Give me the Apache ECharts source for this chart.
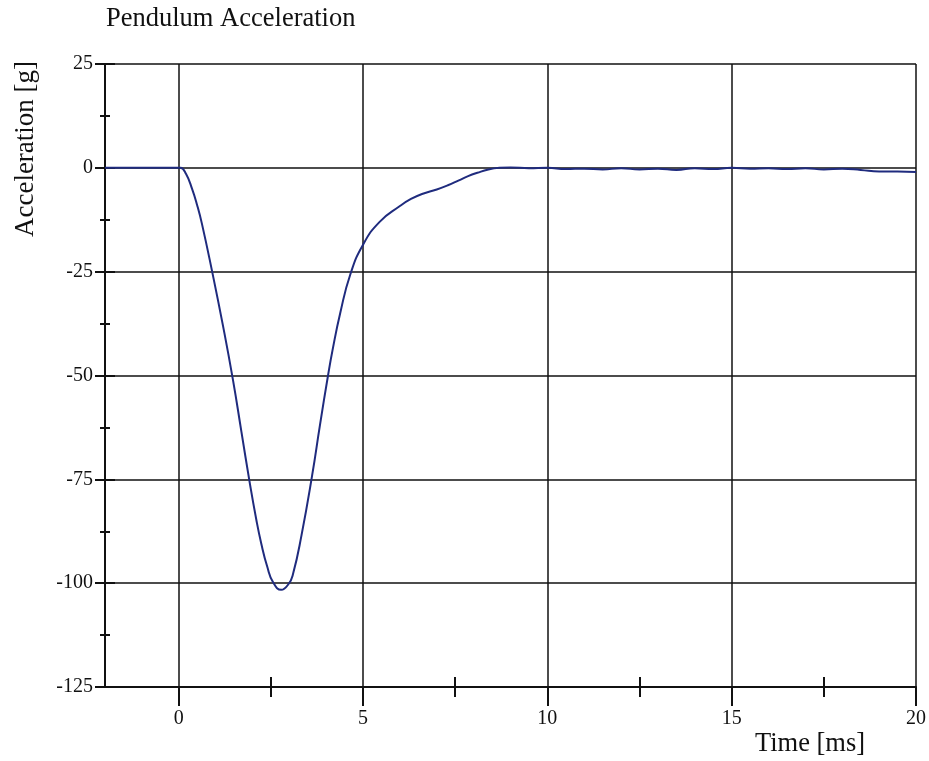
<!DOCTYPE html>
<html>
<head>
<meta charset="utf-8">
<script src="https://cdn.jsdelivr.net/npm/echarts@6/dist/echarts.min.js"></script>
<style>html,body{margin:0;padding:0;background:#fff}#c{width:929px;height:761px}</style>
</head>
<body>
<div id="c"></div>
<script>
const chartTitle = 'Pendulum Acceleration';
const xName = 'Time [ms]';
const yName = 'Acceleration [g]';
const xMajor = [0, 5, 10, 15, 20];
const xMinor = [2.5, 7.5, 12.5, 17.5];
const timeMs = [-2, -1, 0, 0.05, 0.2, 0.36, 0.5, 0.63, 0.9, 1.2, 1.47, 1.7, 1.92, 2.1, 2.24, 2.4, 2.56, 2.78, 2.98, 3.1, 3.33, 3.62, 3.83, 4.05, 4.17, 4.38, 4.66, 5.0, 5.45, 6.0, 6.3, 6.6, 7.0, 7.3, 7.6, 7.85, 8.1, 8.4, 8.7, 9.0, 9.5, 10, 10.5, 11, 11.5, 12, 12.5, 13, 13.5, 14, 14.5, 15, 15.5, 16, 16.5, 17, 17.5, 18, 18.5, 19, 19.5, 20];
const accelG = [0, 0, 0, 0, -1.5, -5, -9, -13.5, -24.7, -38, -51, -63.5, -75.5, -84.5, -90.5, -96, -99.8, -101.6, -100.2, -97.8, -88.5, -74, -62, -50, -44, -35, -25.5, -18.5, -13, -9.2, -7.5, -6.3, -5.2, -4.2, -3.0, -2.0, -1.2, -0.4, 0, 0.1, -0.1, 0, -0.3, -0.2, -0.4, -0.1, -0.4, -0.2, -0.5, -0.1, -0.3, 0, -0.2, -0.1, -0.3, -0.1, -0.4, -0.2, -0.5, -0.9, -0.9, -1];

const serif = "'Liberation Serif', 'DejaVu Serif', serif";
const ink = '#111';
const chart = echarts.init(document.getElementById('c'), null, {renderer: 'canvas'});
const baseX = {type: 'value', min: -2, max: 20, position: 'bottom', splitLine: {show: false}};
chart.setOption({
  animation: false,
  backgroundColor: '#fff',
  title: {text: chartTitle, left: 101, top: 1, textStyle: {fontFamily: serif, fontSize: 26.5, fontWeight: 'normal', color: ink}},
  grid: {left: 105, right: 13, top: 64, bottom: 74, containLabel: false},
  xAxis: [
    Object.assign({}, baseX, {
      axisLine: {show: true, onZero: false, lineStyle: {color: ink, width: 2}},
      axisTick: {show: true, customValues: xMajor, length: 19, lineStyle: {color: ink, width: 2}},
      axisLabel: {show: true, customValues: xMajor, margin: 22, fontFamily: serif, fontSize: 20, color: ink}
    }),
    Object.assign({}, baseX, {
      axisLine: {show: false, onZero: false}, axisLabel: {show: false},
      axisTick: {show: true, inside: true, customValues: xMinor, length: 10, lineStyle: {color: ink, width: 2}}
    }),
    Object.assign({}, baseX, {
      axisLine: {show: false, onZero: false}, axisLabel: {show: false},
      axisTick: {show: true, inside: false, customValues: xMinor, length: 10, lineStyle: {color: ink, width: 2}}
    })
  ],
  yAxis: [
    {
      type: 'value', min: -125, max: 25, interval: 25, position: 'left',
      axisLine: {show: true, onZero: false, lineStyle: {color: ink, width: 2}},
      axisTick: {show: true, length: 10, lineStyle: {color: ink, width: 2}},
      minorTick: {show: true, splitNumber: 2, length: 5, lineStyle: {color: ink, width: 2}},
      axisLabel: {margin: 12, fontFamily: serif, fontSize: 20, color: ink},
      splitLine: {show: true, lineStyle: {color: ink, width: 1.5}}
    },
    {
      type: 'value', min: -125, max: 25, interval: 25, position: 'left',
      axisLine: {show: false, onZero: false}, axisLabel: {show: false}, splitLine: {show: false},
      axisTick: {show: true, inside: true, length: 10, lineStyle: {color: ink, width: 2}},
      minorTick: {show: true, splitNumber: 2, length: 5, lineStyle: {color: ink, width: 2}}
    }
  ],
  graphic: [
    {type: 'text', x: 26, y: 149, rotation: Math.PI / 2,
     style: {text: yName, font: '27px ' + serif, fill: ink, align: 'center', verticalAlign: 'middle'}},
    {type: 'text', x: 810, y: 744,
     style: {text: xName, font: '26.5px ' + serif, fill: ink, align: 'center', verticalAlign: 'middle'}}
  ],
  series: [{
    type: 'line',
    xAxisIndex: 0, yAxisIndex: 0,
    data: timeMs.map((t, i) => [t, accelG[i]]),
    showSymbol: false,
    smooth: 0.5,
    lineStyle: {color: '#1f2b7e', width: 2},
    markLine: {
      silent: true, symbol: ['none', 'none'], label: {show: false},
      lineStyle: {color: ink, width: 1.5, type: 'solid'},
      data: xMajor.map(v => ({xAxis: v}))
    },
    z: 5
  }]
});
</script>
</body>
</html>
